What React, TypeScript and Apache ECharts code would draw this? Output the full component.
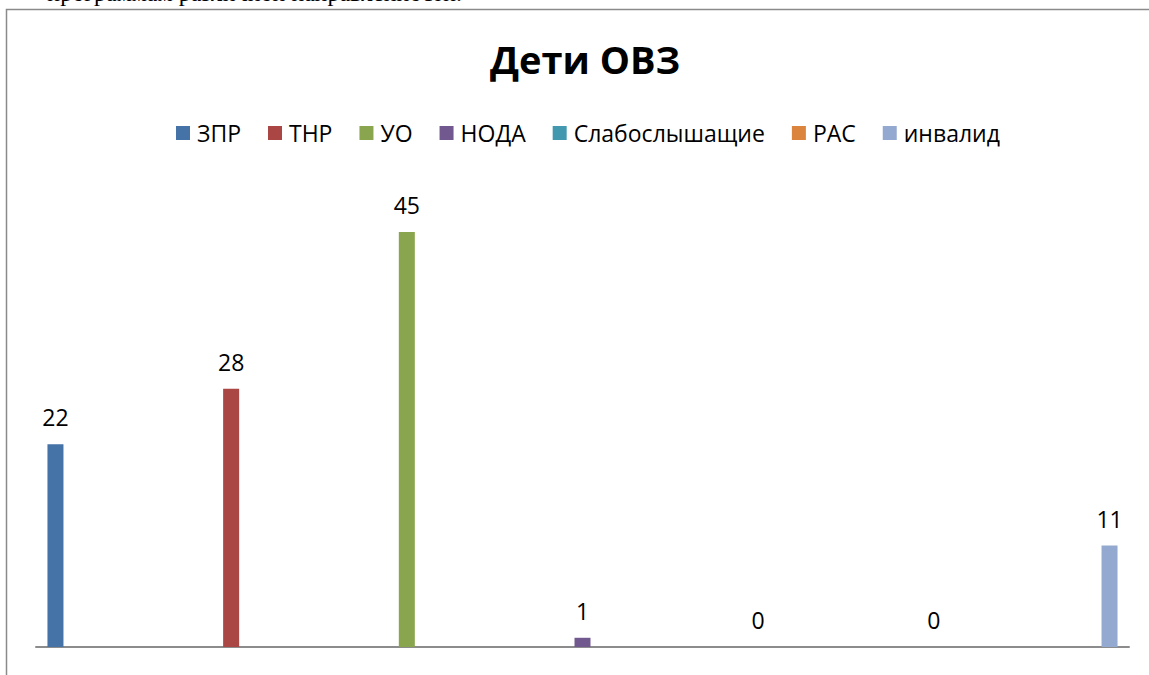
import React, { useEffect, useRef } from "react";
import * as echarts from "echarts";

const seriesNames = ["ЗПР", "ТНР", "УО", "НОДА", "Слабослышащие", "РАС", "инвалид"];
const seriesValues = [22, 28, 45, 1, 0, 0, 11];
const seriesColors = ["#4572A7", "#AA4643", "#89A54E", "#71588F", "#4198AF", "#DB843D", "#93A9CF"];
const categories = [""];
const titleText = "Дети ОВЗ";
const docText = "программам различной направленности.";

const FONT = "'Open Sans', 'Noto Sans', sans-serif";

export default function App() {
  const ref = useRef<HTMLDivElement>(null);
  useEffect(() => {
    if (!ref.current) return;
    const chart = echarts.init(ref.current, null, { renderer: "svg" });
    chart.setOption({
      animation: false,
      backgroundColor: "#ffffff",
      title: {
        text: titleText,
        left: 485,
        top: 29,
        textStyle: { fontFamily: FONT, fontSize: 38, fontWeight: "bold", color: "#000", lineHeight: 50 },
      },
      legend: {
        top: 113,
        left: 171,
        itemWidth: 14,
        itemHeight: 14,
        itemGap: 27,
        icon: "rect",
        textStyle: { fontFamily: FONT, fontSize: 23, color: "#000", lineHeight: 30, padding: [0, 0, 0, 2] },
        data: seriesNames,
      },
      grid: { left: 36, right: 20, top: 186, bottom: 28, containLabel: false },
      xAxis: {
        type: "category",
        data: categories,
        axisLine: { show: true, lineStyle: { color: "#8c8c8c", width: 2 } },
        axisTick: { show: false },
        axisLabel: { show: false },
        splitLine: { show: false },
      },
      yAxis: {
        type: "value",
        min: 0,
        max: 50,
        show: false,
        splitLine: { show: false },
      },
      graphic: [
        {
          type: "rect",
          shape: { x: 6.5, y: 9.5, width: 1200, height: 700 },
          style: { fill: "none", stroke: "#8a8a8a", lineWidth: 1.5 },
          silent: true,
        },
        {
          type: "text",
          x: 462,
          y: -7,
          style: {
            text: docText,
            align: "right",
            verticalAlign: "middle",
            font: "24px 'Liberation Serif', 'Times New Roman', serif",
            fill: "#000",
          },
          silent: true,
        },
      ],
      series: seriesNames.map((name, i) => ({
        name,
        type: "bar",
        data: [seriesValues[i]],
        barWidth: 16,
        barGap: "998%",
        itemStyle: { color: seriesColors[i] },
        label: {
          show: true,
          position: "top",
          distance: 12,
          fontFamily: FONT,
          fontSize: 23,
          color: "#000",
          lineHeight: 30,
        },
      })),
    });
    return () => chart.dispose();
  }, []);
  return (
    <div
      ref={ref}
      style={{ position: "fixed", left: 0, top: 0, width: 1149, height: 675, background: "#fff" }}
    />
  );
}
